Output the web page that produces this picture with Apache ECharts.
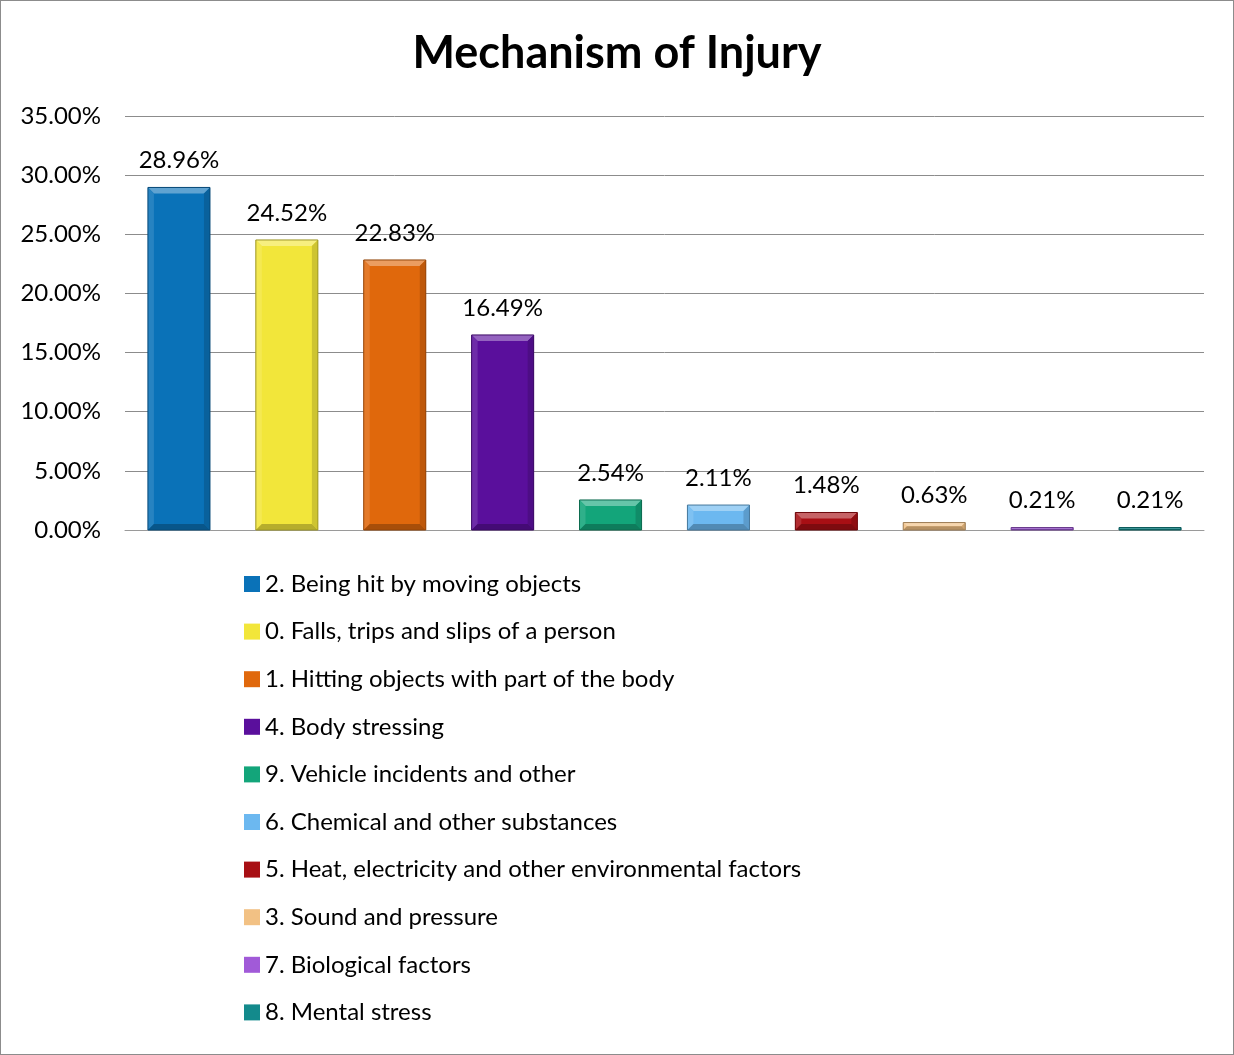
<!DOCTYPE html>
<html><head><meta charset="utf-8">
<script src="https://cdn.jsdelivr.net/npm/echarts@6/dist/echarts.min.js"></script>
<style>html,body{margin:0;padding:0;background:#fff}#c{width:1234px;height:1055px;box-sizing:border-box;border:1px solid #8c8c8c;}</style>
</head><body><div id="c"></div>
<script>
const categories = ["2. Being hit by moving objects","0. Falls, trips and slips of a person","1. Hitting objects with part of the body","4. Body stressing","9. Vehicle incidents and other","6. Chemical and other substances","5. Heat, electricity and other environmental factors","3. Sound and pressure","7. Biological factors","8. Mental stress"];
const values = [28.96,24.52,22.83,16.49,2.54,2.11,1.48,0.63,0.21,0.21];
const colors = ["#0a72b8","#f2e63a","#e0680c","#5a0f9c","#13a57a","#6cb8f0","#a80f14","#f2c184","#a15ad8","#138a8c"];
const yTicks = [0,5,10,15,20,25,30,35];

function mix(hex, t){
  const n=parseInt(hex.slice(1),16); let r=n>>16,g=(n>>8)&255,b=n&255;
  if(t>0){r=r+(255-r)*t;g=g+(255-g)*t;b=b+(255-b)*t;} else {r=r*(1+t);g=g*(1+t);b=b*(1+t);}
  return 'rgb('+Math.round(r)+','+Math.round(g)+','+Math.round(b)+')';
}
const FONT = 'Lato, "Open Sans", sans-serif';
const chart = echarts.init(document.getElementById('c'));
const series = categories.map((name,i)=>({
  name, type:'custom', color:colors[i],
  data:[[i, values[i]]],
  renderItem:(params, api)=>{
    const x=api.value(0), v=api.value(1);
    const top=api.coord([x,v]), base=api.coord([x,0]);
    const bw=api.size([1,0])[0]*0.575;
    const x0=top[0]-bw/2, x1=top[0]+bw/2, y0=top[1], y1=base[1];
    const h=y1-y0; const b=Math.min(6, h/2, bw/2);
    const c=colors[i];
    const ch=[
      {type:'rect',shape:{x:x0,y:y0,width:bw,height:h},style:{fill:c}},
      {type:'polygon',shape:{points:[[x0,y0],[x1,y0],[x1-b,y0+b],[x0+b,y0+b]]},style:{fill:mix(c,0.35)}},
      {type:'polygon',shape:{points:[[x0,y0],[x0+b,y0+b],[x0+b,y1-b],[x0,y1]]},style:{fill:mix(c,0.12)}},
      {type:'polygon',shape:{points:[[x1,y0],[x1,y1],[x1-b,y1-b],[x1-b,y0+b]]},style:{fill:mix(c,-0.15)}},
      {type:'polygon',shape:{points:[[x0,y1],[x0+b,y1-b],[x1-b,y1-b],[x1,y1]]},style:{fill:mix(c,-0.25)}},
      {type:'rect',shape:{x:x0,y:y0,width:bw,height:h},style:{fill:'none',stroke:mix(c,-0.35),lineWidth:1}},
      {type:'text',style:{x:top[0],y:y0-15,text:v.toFixed(2)+'%',align:'center',verticalAlign:'bottom',fill:'#000',font:'24px '+FONT}}
    ];
    return {type:'group',children:ch};
  }
}));
chart.setOption({
  animation:false,
  textStyle:{fontFamily:FONT},
  title:{text:'Mechanism of Injury',left:'center',top:25,textStyle:{fontSize:45,fontWeight:'bold',color:'#000',fontFamily:FONT}},
  grid:{left:124,right:29,top:115,bottom:524},
  xAxis:{type:'category',data:categories,axisLabel:{show:false},axisTick:{show:false},axisLine:{lineStyle:{color:'#9a9a9a',width:1}}},
  yAxis:{type:'value',min:yTicks[0],max:yTicks[yTicks.length-1],interval:5,
    axisLabel:{formatter:v=>v.toFixed(2)+'%',fontSize:24,color:'#000',margin:24,fontFamily:FONT},
    axisLine:{show:false},axisTick:{show:false},
    splitLine:{lineStyle:{color:'#8c8c8c',width:1}}},
  legend:{orient:'vertical',left:238,top:566,itemWidth:16,itemHeight:16,itemGap:23.6,icon:'rect',
    textStyle:{fontSize:24,color:'#000',fontFamily:FONT},data:categories},
  series
});
</script></body></html>
